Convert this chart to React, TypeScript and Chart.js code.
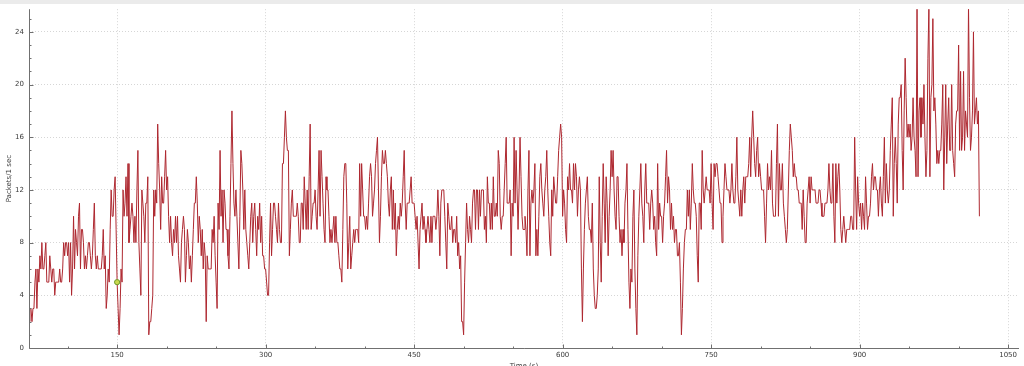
import React, { useEffect, useRef } from "react";
import { Chart, registerables } from "chart.js";

Chart.register(...registerables);

// Start time (s) of each block of one-second samples
const segmentStarts = [61, 162, 259, 356, 453, 552, 650, 748, 846, 944];

// Packets per second
const seg061 = [
  2, 3, 3, 2, 3, 3, 5, 6, 3, 6,
  5, 7, 6, 8, 6, 6, 7, 8, 5, 5,
  5, 7, 6, 5, 6, 6, 4, 5, 5, 5,
  5, 6, 5, 5, 6, 8, 7, 8, 8, 7,
  8, 5, 8, 4, 6, 10, 6, 9, 8, 7,
  10, 11, 6, 9, 9, 8, 6, 7, 6, 7,
  8, 8, 7, 6, 7, 9, 11, 7, 6, 7,
  6, 6, 6, 6, 7, 9, 6, 7, 3, 4,
  6, 5, 9, 12, 10, 10, 12, 13, 9, 5,
  3, 1, 3, 6, 5, 12, 10, 11, 13, 10,
  14,
];
const seg162 = [
  8, 9, 10, 11, 10, 8, 10, 8, 12, 15,
  8, 6, 4, 12, 11, 10, 8, 11, 11, 13,
  1, 2, 2, 3, 4, 12, 10, 12, 11, 17,
  14, 12, 9, 13, 11, 11, 13, 15, 12, 13,
  10, 8, 10, 8, 7, 9, 8, 10, 8, 10,
  7, 6, 5, 8, 9, 10, 9, 5, 7, 9,
  8, 6, 7, 5, 7, 9, 11, 11, 13, 11,
  8, 10, 9, 7, 9, 6, 8, 7, 2, 7,
  6, 6, 6, 6, 9, 8, 10, 7, 5, 3,
  11, 9, 15, 10, 12, 8, 12,
];
const seg259 = [
  11, 9, 9, 7, 6, 10, 14, 18, 14, 11,
  10, 12, 10, 8, 6, 10, 15, 14, 12, 9,
  12, 9, 8, 7, 6, 8, 10, 11, 8, 10,
  11, 9, 7, 10, 9, 11, 8, 10, 7, 7,
  6, 6, 5, 4, 4, 8, 11, 7, 9, 11,
  11, 10, 9, 8, 11, 9, 8, 8, 14, 14,
  16, 18, 16, 15, 15, 7, 9, 11, 12, 10,
  10, 10, 10, 11, 10, 8, 8, 11, 11, 9,
  13, 11, 9, 12, 9, 13, 17, 9, 10, 11,
  11, 12, 10, 9, 12, 15, 10,
];
const seg356 = [
  15, 13, 11, 9, 8, 13, 12, 12, 10, 8,
  9, 8, 9, 10, 8, 10, 8, 8, 7, 6,
  6, 5, 9, 13, 14, 14, 11, 6, 8, 10,
  6, 7, 8, 9, 8, 9, 9, 9, 8, 14,
  10, 14, 12, 10, 10, 9, 10, 9, 11, 13,
  14, 13, 10, 11, 12, 14, 15, 16, 12, 8,
  10, 13, 15, 14, 14, 15, 14, 13, 11, 10,
  12, 13, 9, 12, 9, 11, 7, 9, 10, 9,
  11, 10, 11, 13, 15, 11, 9, 11, 11, 11,
  12, 13, 11, 11, 11, 10, 9,
];
const seg453 = [
  10, 8, 6, 9, 10, 11, 9, 10, 9, 8,
  9, 10, 9, 8, 10, 8, 10, 10, 10, 9,
  10, 12, 10, 7, 11, 12, 12, 12, 10, 8,
  6, 11, 10, 9, 9, 10, 8, 9, 9, 8,
  10, 7, 8, 6, 7, 2, 2, 1, 5, 8,
  11, 9, 8, 10, 9, 8, 11, 12, 12, 9,
  12, 12, 9, 12, 10, 12, 12, 12, 9, 10,
  8, 13, 11, 11, 9, 11, 9, 13, 10, 10,
  11, 10, 15, 14, 10, 9, 10, 10, 12, 14,
  16, 11, 11, 11, 12, 7, 11, 10, 16,
];
const seg552 = [
  11, 15, 12, 9, 12, 16, 13, 10, 9, 9,
  10, 9, 7, 12, 15, 7, 11, 12, 11, 12,
  14, 7, 9, 7, 10, 13, 14, 12, 11, 10,
  12, 13, 15, 12, 10, 8, 7, 12, 10, 13,
  12, 11, 11, 13, 15, 16, 17, 16, 10, 12,
  11, 9, 8, 13, 12, 14, 12, 12, 11, 14,
  12, 14, 13, 10, 12, 13, 12, 6, 2, 6,
  9, 11, 12, 13, 10, 9, 9, 8, 11, 6,
  4, 3, 3, 4, 6, 13, 8, 5, 10, 14,
  11, 8, 13, 11, 7, 10, 12, 15,
];
const seg650 = [
  13, 15, 12, 10, 9, 13, 13, 10, 8, 9,
  7, 9, 8, 11, 12, 14, 9, 5, 3, 6,
  5, 10, 12, 6, 3, 1, 7, 10, 12, 14,
  11, 10, 8, 12, 14, 11, 11, 11, 9, 11,
  12, 11, 9, 10, 8, 7, 14, 9, 11, 10,
  10, 8, 10, 11, 13, 15, 11, 13, 12, 9,
  11, 9, 10, 8, 9, 9, 7, 7, 8, 5,
  1, 3, 6, 8, 9, 9, 12, 10, 12, 9,
  11, 14, 12, 11, 11, 10, 7, 5, 11, 11,
  9, 15, 12, 11, 12, 13, 12, 12,
];
const seg748 = [
  12, 11, 14, 11, 9, 14, 13, 14, 14, 13,
  12, 11, 11, 8, 10, 12, 14, 13, 12, 12,
  12, 11, 12, 14, 12, 11, 11, 13, 16, 12,
  11, 10, 12, 10, 12, 13, 11, 13, 13, 13,
  14, 16, 13, 16, 18, 16, 14, 13, 15, 16,
  13, 14, 13, 12, 12, 12, 10, 8, 11, 14,
  12, 13, 12, 15, 11, 10, 10, 10, 14, 17,
  10, 14, 12, 12, 14, 11, 10, 9, 8, 9,
  12, 15, 17, 16, 15, 13, 14, 13, 13, 12,
  12, 11, 11, 11, 9, 12, 10, 8,
];
const seg846 = [
  8, 11, 12, 13, 11, 13, 12, 12, 12, 12,
  11, 11, 11, 12, 12, 11, 10, 10, 10, 11,
  11, 11, 12, 14, 12, 11, 11, 14, 10, 8,
  14, 11, 13, 14, 12, 9, 8, 9, 10, 9,
  8, 9, 9, 9, 9, 10, 10, 9, 9, 16,
  12, 9, 13, 11, 10, 11, 9, 11, 10, 9,
  13, 11, 9, 10, 10, 11, 13, 14, 12, 13,
  13, 12, 12, 10, 12, 13, 11, 10, 13, 16,
  11, 14, 12, 11, 12, 15, 17, 19, 10, 14,
  16, 14, 11, 17, 19, 19, 20, 15,
];
const seg944 = [
  12, 18, 22, 19, 16, 17, 16, 17, 15, 16,
  19, 16, 15, 13, 26, 13, 18, 19, 16, 19,
  17, 20, 16, 13, 15, 22, 26, 13, 19, 20,
  25, 18, 19, 17, 14, 15, 14, 15, 15, 17,
  20, 12, 16, 20, 14, 17, 19, 15, 15, 20,
  15, 14, 13, 17, 18, 18, 23, 15, 21, 15,
  16, 21, 15, 18, 17, 16, 26, 19, 15, 16,
  18, 24, 17, 18, 19, 17, 18, 10,
];
const segments = [seg061, seg162, seg259, seg356, seg453, seg552, seg650, seg748, seg846, seg944];

// Tracer marker
const markerTime = [150];
const markerValue = [5];

// Axes
const xTickValues = [150, 300, 450, 600, 750, 900, 1050];
const xTickLabels = ["150", "300", "450", "600", "750", "900", "1050"];
const xMinorTickValues = [100, 200, 250, 350, 400, 500, 550, 650, 700, 800, 850, 950, 1000];
const yTickValues = [0, 4, 8, 12, 16, 20, 24];
const yTickLabels = ["0", "4", "8", "12", "16", "20", "24"];
const yMinorTickValues = [1, 2, 3, 5, 6, 7, 9, 10, 11, 13, 14, 15, 17, 18, 19, 21, 22, 23, 25];
const xRange = [61, 1061];
const yRange = [0, 25.72];

const FONT = "'DejaVu Sans', 'Liberation Sans', sans-serif";
const TEXT = "#3a3a3a";

const axesPlugin = {
  id: "innerAxes",
  afterDatasetsDraw(chart: any) {
    const { ctx, chartArea: a, scales } = chart;
    const x = scales.x;
    const y = scales.y;
    ctx.save();
    ctx.strokeStyle = "#707070";
    ctx.lineWidth = 1;
    ctx.beginPath();
    const left = Math.round(a.left) + 0.5;
    const bottom = Math.round(a.bottom) + 0.5;
    ctx.moveTo(left, a.top);
    ctx.lineTo(left, bottom);
    ctx.lineTo(a.right, bottom);
    for (const v of xTickValues) {
      const px = Math.round(x.getPixelForValue(v)) + 0.5;
      ctx.moveTo(px, bottom);
      ctx.lineTo(px, bottom - 4);
    }
    for (const v of xMinorTickValues) {
      const px = Math.round(x.getPixelForValue(v)) + 0.5;
      ctx.moveTo(px, bottom);
      ctx.lineTo(px, bottom - 2);
    }
    for (const v of yTickValues) {
      const py = Math.round(y.getPixelForValue(v)) + 0.5;
      ctx.moveTo(left, py);
      ctx.lineTo(left + 4, py);
    }
    for (const v of yMinorTickValues) {
      const py = Math.round(y.getPixelForValue(v)) + 0.5;
      ctx.moveTo(left, py);
      ctx.lineTo(left + 2, py);
    }
    ctx.stroke();
    ctx.restore();
  },
};

export default function App() {
  const ref = useRef<HTMLCanvasElement | null>(null);

  useEffect(() => {
    if (!ref.current) return;
    const points = segments.flatMap((seg, k) =>
      seg.map((v, i) => ({ x: segmentStarts[k] + i, y: v }))
    );
    const marker = markerTime.map((t, i) => ({ x: t, y: markerValue[i] }));

    const chart = new Chart(ref.current, {
      type: "line",
      data: {
        datasets: [
          {
            data: marker,
            showLine: false,
            pointRadius: 2.6,
            pointBackgroundColor: "#c9d84e",
            pointBorderColor: "#6f9a2c",
            pointBorderWidth: 1,
          } as any,
          {
            data: points,
            borderColor: "rgb(174, 40, 48)",
            borderWidth: 1,
            pointRadius: 0,
            tension: 0,
            fill: false,
          },
        ],
      },
      options: {
        animation: false,
        responsive: false,
        devicePixelRatio: 1,
        layout: { padding: { top: 7, right: 5, left: 0, bottom: 0 } },
        plugins: { legend: { display: false }, tooltip: { enabled: false } },
        scales: {
          x: {
            type: "linear",
            min: xRange[0],
            max: xRange[1],
            afterBuildTicks: (s: any) => {
              s.ticks = xTickValues.map((v) => ({ value: v }));
            },
            afterFit: (s: any) => {
              s.height = 28;
            },
            grid: { color: "#d6d6d6", lineWidth: 1, drawTicks: false },
            border: { display: false, dash: [1, 2] },
            ticks: {
              padding: 3,
              color: TEXT,
              font: { family: FONT, size: 7 },
              maxRotation: 0,
              autoSkip: false,
              callback: (value: any) => {
                const i = xTickValues.indexOf(Number(value));
                return i >= 0 ? xTickLabels[i] : "";
              },
            },
            title: {
              display: true,
              text: "Time (s)",
              color: TEXT,
              font: { family: FONT, size: 7 },
              padding: { top: 0, bottom: 6 },
            },
          },
          y: {
            type: "linear",
            min: yRange[0],
            max: yRange[1],
            afterBuildTicks: (s: any) => {
              s.ticks = yTickValues.map((v) => ({ value: v }));
            },
            afterFit: (s: any) => {
              s.width = 29;
            },
            grid: { color: "#d6d6d6", lineWidth: 1, drawTicks: false },
            border: { display: false, dash: [1, 2] },
            ticks: {
              padding: 5,
              color: TEXT,
              font: { family: FONT, size: 7 },
              autoSkip: false,
              callback: (value: any) => {
                const i = yTickValues.indexOf(Number(value));
                return i >= 0 ? yTickLabels[i] : "";
              },
            },
            title: {
              display: true,
              text: "Packets/1 sec",
              color: TEXT,
              font: { family: FONT, size: 7 },
              padding: { top: 5, bottom: 0 },
            },
          },
        },
      },
      plugins: [axesPlugin],
    });
    return () => chart.destroy();
  }, []);

  return (
    <div
      style={{
        position: "fixed",
        left: 0,
        top: 0,
        width: 1024,
        height: 376,
        background: "linear-gradient(#ebebeb 0px, #ebebeb 4px, #ffffff 4px)",
      }}
    >
      <canvas ref={ref} width={1024} height={376} style={{ display: "block" }} />
    </div>
  );
}
